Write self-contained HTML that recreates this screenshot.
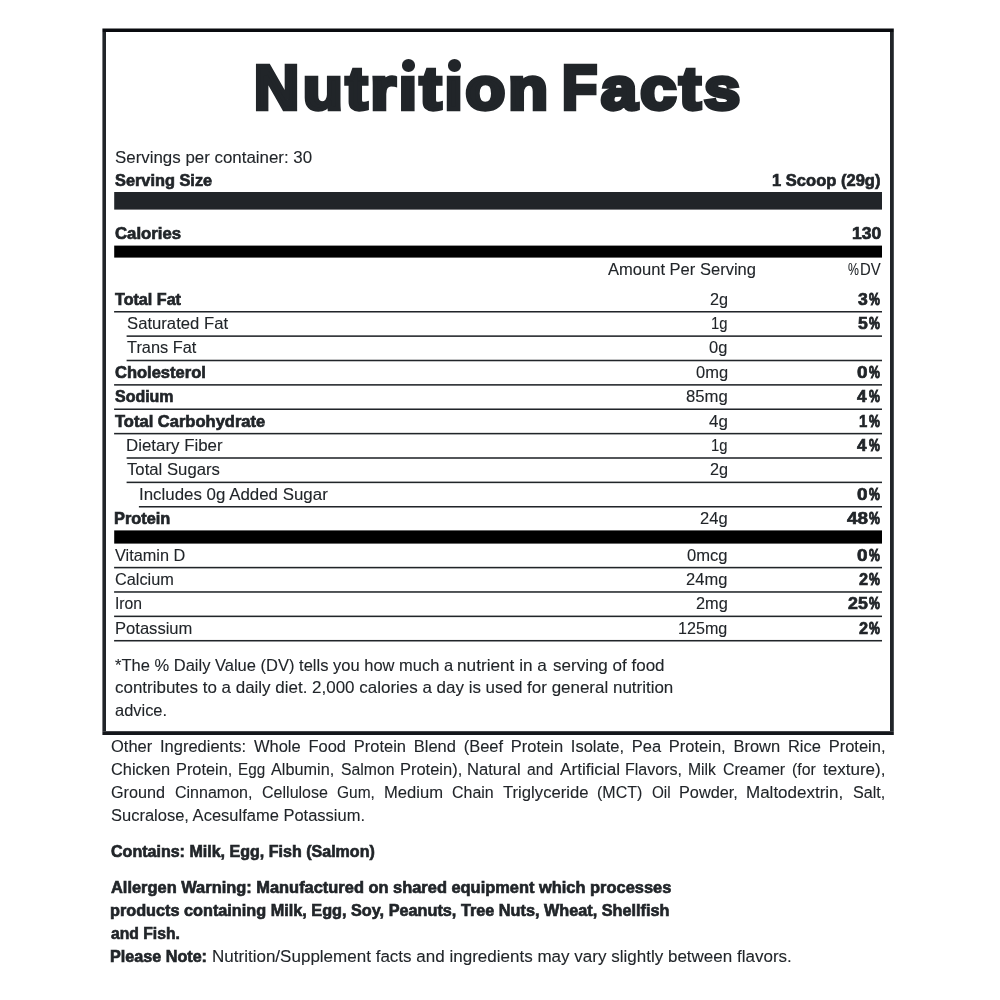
<!DOCTYPE html>
<html><head><meta charset="utf-8"><title>Nutrition Facts</title>
<style>
html,body{margin:0;padding:0;background:#fff;}
body{width:1000px;height:1000px;position:relative;overflow:hidden;font-family:"Liberation Sans",sans-serif;color:#212529;}
.t{position:absolute;white-space:nowrap;transform-origin:0 0;margin:0;padding:0;display:block}
.j{white-space:normal;text-align:justify;text-align-last:justify;-webkit-text-stroke:0.1px #212529}
.l{position:absolute;display:block}
.w{position:absolute;left:0;top:0;width:1000px;height:1000px;will-change:transform}
</style></head><body>
<div class="w">
<i class="l" style="left:114px;top:311px;width:1px;height:1px;background:rgba(33,37,41,0.900)"></i>
<i class="l" style="left:115px;top:311px;width:767px;height:1px;background:#212529"></i>
<i class="l" style="left:114px;top:312px;width:1px;height:1px;background:rgba(33,37,41,0.472)"></i>
<i class="l" style="left:115px;top:312px;width:767px;height:1px;background:rgba(33,37,41,0.525)"></i>
<i class="l" style="left:126px;top:335px;width:1px;height:1px;background:rgba(33,37,41,0.260)"></i>
<i class="l" style="left:127px;top:335px;width:755px;height:1px;background:rgba(33,37,41,0.650)"></i>
<i class="l" style="left:126px;top:336px;width:1px;height:1px;background:rgba(33,37,41,0.360)"></i>
<i class="l" style="left:127px;top:336px;width:755px;height:1px;background:rgba(33,37,41,0.900)"></i>
<i class="l" style="left:126px;top:359px;width:1px;height:1px;background:rgba(33,37,41,0.110)"></i>
<i class="l" style="left:127px;top:359px;width:755px;height:1px;background:rgba(33,37,41,0.275)"></i>
<i class="l" style="left:126px;top:360px;width:1px;height:1px;background:rgba(33,37,41,0.400)"></i>
<i class="l" style="left:127px;top:360px;width:755px;height:1px;background:#212529"></i>
<i class="l" style="left:126px;top:361px;width:1px;height:1px;background:rgba(33,37,41,0.110)"></i>
<i class="l" style="left:127px;top:361px;width:755px;height:1px;background:rgba(33,37,41,0.275)"></i>
<i class="l" style="left:114px;top:384px;width:1px;height:1px;background:rgba(33,37,41,0.810)"></i>
<i class="l" style="left:115px;top:384px;width:767px;height:1px;background:rgba(33,37,41,0.900)"></i>
<i class="l" style="left:114px;top:385px;width:1px;height:1px;background:rgba(33,37,41,0.585)"></i>
<i class="l" style="left:115px;top:385px;width:767px;height:1px;background:rgba(33,37,41,0.650)"></i>
<i class="l" style="left:114px;top:408px;width:1px;height:1px;background:rgba(33,37,41,0.472)"></i>
<i class="l" style="left:115px;top:408px;width:767px;height:1px;background:rgba(33,37,41,0.525)"></i>
<i class="l" style="left:114px;top:409px;width:1px;height:1px;background:rgba(33,37,41,0.900)"></i>
<i class="l" style="left:115px;top:409px;width:767px;height:1px;background:#212529"></i>
<i class="l" style="left:114px;top:432px;width:1px;height:1px;background:rgba(33,37,41,0.135)"></i>
<i class="l" style="left:115px;top:432px;width:767px;height:1px;background:rgba(33,37,41,0.150)"></i>
<i class="l" style="left:114px;top:433px;width:1px;height:1px;background:rgba(33,37,41,0.900)"></i>
<i class="l" style="left:115px;top:433px;width:767px;height:1px;background:#212529"></i>
<i class="l" style="left:114px;top:434px;width:1px;height:1px;background:rgba(33,37,41,0.360)"></i>
<i class="l" style="left:115px;top:434px;width:767px;height:1px;background:rgba(33,37,41,0.400)"></i>
<i class="l" style="left:126px;top:457px;width:1px;height:1px;background:rgba(33,37,41,0.310)"></i>
<i class="l" style="left:127px;top:457px;width:755px;height:1px;background:rgba(33,37,41,0.775)"></i>
<i class="l" style="left:126px;top:458px;width:1px;height:1px;background:rgba(33,37,41,0.310)"></i>
<i class="l" style="left:127px;top:458px;width:755px;height:1px;background:rgba(33,37,41,0.775)"></i>
<i class="l" style="left:126px;top:481px;width:1px;height:1px;background:rgba(33,37,41,0.160)"></i>
<i class="l" style="left:127px;top:481px;width:755px;height:1px;background:rgba(33,37,41,0.400)"></i>
<i class="l" style="left:126px;top:482px;width:1px;height:1px;background:rgba(33,37,41,0.400)"></i>
<i class="l" style="left:127px;top:482px;width:755px;height:1px;background:#212529"></i>
<i class="l" style="left:126px;top:483px;width:1px;height:1px;background:rgba(33,37,41,0.060)"></i>
<i class="l" style="left:127px;top:483px;width:755px;height:1px;background:rgba(33,37,41,0.150)"></i>
<i class="l" style="left:138px;top:506px;width:1px;height:1px;background:rgba(33,37,41,0.100)"></i>
<i class="l" style="left:139px;top:506px;width:743px;height:1px;background:#212529"></i>
<i class="l" style="left:138px;top:507px;width:1px;height:1px;background:rgba(33,37,41,0.052)"></i>
<i class="l" style="left:139px;top:507px;width:743px;height:1px;background:rgba(33,37,41,0.525)"></i>
<i class="l" style="left:114px;top:566px;width:1px;height:1px;background:rgba(33,37,41,0.157)"></i>
<i class="l" style="left:115px;top:566px;width:767px;height:1px;background:rgba(33,37,41,0.175)"></i>
<i class="l" style="left:114px;top:567px;width:1px;height:1px;background:rgba(33,37,41,0.900)"></i>
<i class="l" style="left:115px;top:567px;width:767px;height:1px;background:#212529"></i>
<i class="l" style="left:114px;top:568px;width:1px;height:1px;background:rgba(33,37,41,0.338)"></i>
<i class="l" style="left:115px;top:568px;width:767px;height:1px;background:rgba(33,37,41,0.375)"></i>
<i class="l" style="left:114px;top:591px;width:1px;height:1px;background:rgba(33,37,41,0.720)"></i>
<i class="l" style="left:115px;top:591px;width:767px;height:1px;background:rgba(33,37,41,0.800)"></i>
<i class="l" style="left:114px;top:592px;width:1px;height:1px;background:rgba(33,37,41,0.675)"></i>
<i class="l" style="left:115px;top:592px;width:767px;height:1px;background:rgba(33,37,41,0.750)"></i>
<i class="l" style="left:114px;top:615px;width:1px;height:1px;background:rgba(33,37,41,0.382)"></i>
<i class="l" style="left:115px;top:615px;width:767px;height:1px;background:rgba(33,37,41,0.425)"></i>
<i class="l" style="left:114px;top:616px;width:1px;height:1px;background:rgba(33,37,41,0.900)"></i>
<i class="l" style="left:115px;top:616px;width:767px;height:1px;background:#212529"></i>
<i class="l" style="left:114px;top:617px;width:1px;height:1px;background:rgba(33,37,41,0.113)"></i>
<i class="l" style="left:115px;top:617px;width:767px;height:1px;background:rgba(33,37,41,0.125)"></i>
<i class="l" style="left:114px;top:639px;width:1px;height:1px;background:rgba(33,37,41,0.045)"></i>
<i class="l" style="left:115px;top:639px;width:767px;height:1px;background:rgba(33,37,41,0.050)"></i>
<i class="l" style="left:114px;top:640px;width:1px;height:1px;background:rgba(33,37,41,0.900)"></i>
<i class="l" style="left:115px;top:640px;width:767px;height:1px;background:#212529"></i>
<i class="l" style="left:114px;top:641px;width:1px;height:1px;background:rgba(33,37,41,0.450)"></i>
<i class="l" style="left:115px;top:641px;width:767px;height:1px;background:rgba(33,37,41,0.500)"></i>
<i class="l" style="left:114px;top:192px;width:1px;height:17px;background:rgba(33,37,41,0.800)"></i>
<i class="l" style="left:115px;top:192px;width:767px;height:17px;background:#212529"></i>
<i class="l" style="left:114px;top:209px;width:1px;height:1px;background:rgba(33,37,41,0.480)"></i>
<i class="l" style="left:115px;top:209px;width:767px;height:1px;background:rgba(33,37,41,0.600)"></i>
<i class="l" style="left:114px;top:245px;width:1px;height:1px;background:rgba(0,0,0,0.320)"></i>
<i class="l" style="left:115px;top:245px;width:767px;height:1px;background:rgba(0,0,0,0.400)"></i>
<i class="l" style="left:114px;top:246px;width:1px;height:11px;background:rgba(0,0,0,0.800)"></i>
<i class="l" style="left:115px;top:246px;width:767px;height:11px;background:#000"></i>
<i class="l" style="left:114px;top:257px;width:1px;height:1px;background:rgba(0,0,0,0.480)"></i>
<i class="l" style="left:115px;top:257px;width:767px;height:1px;background:rgba(0,0,0,0.600)"></i>
<i class="l" style="left:114px;top:530px;width:1px;height:1px;background:rgba(0,0,0,0.480)"></i>
<i class="l" style="left:115px;top:530px;width:767px;height:1px;background:rgba(0,0,0,0.600)"></i>
<i class="l" style="left:114px;top:531px;width:1px;height:12px;background:rgba(0,0,0,0.800)"></i>
<i class="l" style="left:115px;top:531px;width:767px;height:12px;background:#000"></i>
<i class="l" style="left:114px;top:543px;width:1px;height:1px;background:rgba(0,0,0,0.480)"></i>
<i class="l" style="left:115px;top:543px;width:767px;height:1px;background:rgba(0,0,0,0.600)"></i>
<i class="l" style="left:401.6px;top:59.3px;width:13.2px;height:12.4px;border-radius:50%;background:#212529"></i>
<i class="l" style="left:447.7px;top:59.3px;width:13.2px;height:12.4px;border-radius:50%;background:#212529"></i>
<i class="l" style="left:102px;top:28px;width:1px;height:1px;background:rgba(9,11,15,0.300)"></i>
<i class="l" style="left:103px;top:28px;width:790px;height:1px;background:rgba(9,11,15,0.500)"></i>
<i class="l" style="left:893px;top:28px;width:1px;height:1px;background:rgba(9,11,15,0.400)"></i>
<i class="l" style="left:102px;top:29px;width:1px;height:3px;background:rgba(9,11,15,0.600)"></i>
<i class="l" style="left:103px;top:29px;width:790px;height:3px;background:#090b0f"></i>
<i class="l" style="left:893px;top:29px;width:1px;height:3px;background:rgba(9,11,15,0.800)"></i>
<i class="l" style="left:102px;top:731px;width:1px;height:1px;background:rgba(20,23,27,0.480)"></i>
<i class="l" style="left:103px;top:731px;width:790px;height:1px;background:rgba(20,23,27,0.800)"></i>
<i class="l" style="left:893px;top:731px;width:1px;height:1px;background:rgba(20,23,27,0.640)"></i>
<i class="l" style="left:102px;top:732px;width:1px;height:3px;background:rgba(20,23,27,0.600)"></i>
<i class="l" style="left:103px;top:732px;width:790px;height:3px;background:#14171b"></i>
<i class="l" style="left:893px;top:732px;width:1px;height:3px;background:rgba(20,23,27,0.800)"></i>
<i class="l" style="left:102px;top:32px;width:1px;height:699px;background:rgba(33,37,41,0.600)"></i>
<i class="l" style="left:103px;top:32px;width:3px;height:699px;background:#212529"></i>
<i class="l" style="left:102px;top:731px;width:1px;height:1px;background:rgba(33,37,41,0.120)"></i>
<i class="l" style="left:103px;top:731px;width:3px;height:1px;background:rgba(33,37,41,0.200)"></i>
<i class="l" style="left:890px;top:32px;width:3px;height:699px;background:#212529"></i>
<i class="l" style="left:893px;top:32px;width:1px;height:699px;background:rgba(33,37,41,0.800)"></i>
<i class="l" style="left:890px;top:731px;width:3px;height:1px;background:rgba(33,37,41,0.200)"></i>
<i class="l" style="left:893px;top:731px;width:1px;height:1px;background:rgba(33,37,41,0.160)"></i>
<span class="t" style="left:254.37px;top:52px;font-size:63.10px;line-height:70px;transform:scaleX(0.9906);font-weight:bold;-webkit-text-stroke:4.5px #212529;">N</span>
<span class="t" style="left:302.73px;top:55px;font-size:63.10px;line-height:70px;transform:translate(0px,0.11px) scale(1.0300,0.945);letter-spacing:2.931px;font-weight:bold;-webkit-text-stroke:4.5px #212529;">utrıtıon</span>
<span class="t" style="left:562.15px;top:52px;font-size:63.10px;line-height:70px;transform:scaleX(0.9133);font-weight:bold;-webkit-text-stroke:4.5px #212529;">F</span>
<span class="t" style="left:601.29px;top:55px;font-size:63.10px;line-height:70px;transform:translate(0px,0.11px) scale(1.0300,0.945);letter-spacing:2.906px;font-weight:bold;-webkit-text-stroke:4.5px #212529;">acts</span>
<span class="t" style="left:115.05px;top:148px;font-size:16.50px;line-height:18px;transform:scaleX(1.0232);-webkit-text-stroke:0.1px #212529;">Servings per container: 30</span>
<span class="t" style="left:115.32px;top:171px;font-size:16.50px;line-height:18px;transform:scaleX(0.9899);font-weight:bold;-webkit-text-stroke:0.65px #212529;">Serving Size</span>
<span class="t" style="left:772.32px;top:171px;font-size:16.50px;line-height:18px;transform:scaleX(1.0024);font-weight:bold;-webkit-text-stroke:0.65px #212529;">1 Scoop (29g)</span>
<span class="t" style="left:115.33px;top:224px;font-size:16.50px;line-height:18px;transform:scaleX(1.0154);font-weight:bold;-webkit-text-stroke:0.65px #212529;">Calories</span>
<span class="t" style="left:851.69px;top:224px;font-size:16.50px;line-height:18px;transform:scaleX(1.0591);font-weight:bold;-webkit-text-stroke:0.65px #212529;">130</span>
<span class="t" style="left:607.55px;top:260px;font-size:16.50px;line-height:18px;transform:scaleX(1.0022);-webkit-text-stroke:0.1px #212529;">Amount Per Serving</span>
<span class="t" style="left:848.04px;top:259px;font-size:14.35px;line-height:16px;transform:translate(0px,0.65px) scale(0.8550,1.15);-webkit-text-stroke:0.1px #212529;">%</span>
<span class="t" style="left:860.39px;top:260px;font-size:16.50px;line-height:18px;transform:scaleX(0.9016);-webkit-text-stroke:0.1px #212529;">DV</span>
<span class="t" style="left:115.32px;top:290px;font-size:16.50px;line-height:18px;transform:scaleX(0.9770);font-weight:bold;-webkit-text-stroke:0.65px #212529;">Total Fat</span>
<span class="t" style="left:709.55px;top:290px;font-size:16.50px;line-height:18px;transform:scaleX(0.9849);-webkit-text-stroke:0.1px #212529;">2g</span>
<span class="t" style="left:857.85px;top:290px;font-size:16.50px;line-height:18px;transform:scaleX(1.0674);font-weight:bold;-webkit-text-stroke:0.65px #212529;">3</span>
<span class="t" style="left:869.28px;top:289px;font-size:14.35px;line-height:16px;transform:translate(0px,0.80px) scale(0.8489,1.15);font-weight:bold;-webkit-text-stroke:0.9px #212529;">%</span>
<span class="t" style="left:127.05px;top:314px;font-size:16.50px;line-height:18px;transform:scaleX(1.0110);-webkit-text-stroke:0.1px #212529;">Saturated Fat</span>
<span class="t" style="left:711.15px;top:314px;font-size:16.50px;line-height:18px;transform:scaleX(0.8972);-webkit-text-stroke:0.1px #212529;">1g</span>
<span class="t" style="left:857.85px;top:314px;font-size:16.50px;line-height:18px;transform:scaleX(1.0674);font-weight:bold;-webkit-text-stroke:0.65px #212529;">5</span>
<span class="t" style="left:869.28px;top:314px;font-size:14.35px;line-height:16px;transform:translate(0px,0.17px) scale(0.8489,1.15);font-weight:bold;-webkit-text-stroke:0.9px #212529;">%</span>
<span class="t" style="left:127.05px;top:338px;font-size:16.50px;line-height:18px;transform:scaleX(0.9914);-webkit-text-stroke:0.1px #212529;">Trans Fat</span>
<span class="t" style="left:709.30px;top:338px;font-size:16.50px;line-height:18px;transform:scaleX(0.9985);-webkit-text-stroke:0.1px #212529;">0g</span>
<span class="t" style="left:115.33px;top:363px;font-size:16.50px;line-height:18px;transform:scaleX(1.0007);font-weight:bold;-webkit-text-stroke:0.65px #212529;">Cholesterol</span>
<span class="t" style="left:695.55px;top:363px;font-size:16.50px;line-height:18px;transform:scaleX(0.9993);-webkit-text-stroke:0.1px #212529;">0mg</span>
<span class="t" style="left:857.12px;top:363px;font-size:16.50px;line-height:18px;transform:scaleX(1.1451);font-weight:bold;-webkit-text-stroke:0.65px #212529;">0</span>
<span class="t" style="left:869.28px;top:362px;font-size:14.35px;line-height:16px;transform:translate(0px,0.93px) scale(0.8489,1.15);font-weight:bold;-webkit-text-stroke:0.9px #212529;">%</span>
<span class="t" style="left:115.31px;top:387px;font-size:16.50px;line-height:18px;transform:scaleX(0.9673);font-weight:bold;-webkit-text-stroke:0.65px #212529;">Sodium</span>
<span class="t" style="left:685.80px;top:387px;font-size:16.50px;line-height:18px;transform:scaleX(1.0134);-webkit-text-stroke:0.1px #212529;">85mg</span>
<span class="t" style="left:857.09px;top:387px;font-size:16.50px;line-height:18px;transform:scaleX(1.0376);font-weight:bold;-webkit-text-stroke:0.65px #212529;">4</span>
<span class="t" style="left:869.28px;top:387px;font-size:14.35px;line-height:16px;transform:translate(0px,0.30px) scale(0.8489,1.15);font-weight:bold;-webkit-text-stroke:0.9px #212529;">%</span>
<span class="t" style="left:115.33px;top:412px;font-size:16.50px;line-height:18px;transform:scaleX(1.0012);font-weight:bold;-webkit-text-stroke:0.65px #212529;">Total Carbohydrate</span>
<span class="t" style="left:708.80px;top:412px;font-size:16.50px;line-height:18px;transform:scaleX(1.0259);-webkit-text-stroke:0.1px #212529;">4g</span>
<span class="t" style="left:859.39px;top:412px;font-size:16.50px;line-height:18px;transform:scaleX(0.9017);font-weight:bold;-webkit-text-stroke:0.65px #212529;">1</span>
<span class="t" style="left:869.28px;top:411px;font-size:14.35px;line-height:16px;transform:translate(0px,0.67px) scale(0.8489,1.15);font-weight:bold;-webkit-text-stroke:0.9px #212529;">%</span>
<span class="t" style="left:126.33px;top:436px;font-size:16.50px;line-height:18px;transform:scaleX(1.0229);-webkit-text-stroke:0.1px #212529;">Dietary Fiber</span>
<span class="t" style="left:711.15px;top:436px;font-size:16.50px;line-height:18px;transform:scaleX(0.8972);-webkit-text-stroke:0.1px #212529;">1g</span>
<span class="t" style="left:857.09px;top:436px;font-size:16.50px;line-height:18px;transform:scaleX(1.0376);font-weight:bold;-webkit-text-stroke:0.65px #212529;">4</span>
<span class="t" style="left:869.28px;top:436px;font-size:14.35px;line-height:16px;transform:translate(0px,0.05px) scale(0.8489,1.15);font-weight:bold;-webkit-text-stroke:0.9px #212529;">%</span>
<span class="t" style="left:127.05px;top:460px;font-size:16.50px;line-height:18px;transform:scaleX(1.0129);-webkit-text-stroke:0.1px #212529;">Total Sugars</span>
<span class="t" style="left:709.55px;top:460px;font-size:16.50px;line-height:18px;transform:scaleX(0.9849);-webkit-text-stroke:0.1px #212529;">2g</span>
<span class="t" style="left:138.53px;top:485px;font-size:16.50px;line-height:18px;transform:scaleX(1.0238);-webkit-text-stroke:0.1px #212529;">Includes 0g Added Sugar</span>
<span class="t" style="left:857.12px;top:485px;font-size:16.50px;line-height:18px;transform:scaleX(1.1451);font-weight:bold;-webkit-text-stroke:0.65px #212529;">0</span>
<span class="t" style="left:869.28px;top:484px;font-size:14.35px;line-height:16px;transform:translate(0px,0.80px) scale(0.8489,1.15);font-weight:bold;-webkit-text-stroke:0.9px #212529;">%</span>
<span class="t" style="left:114.33px;top:509px;font-size:16.50px;line-height:18px;transform:scaleX(0.9909);font-weight:bold;-webkit-text-stroke:0.65px #212529;">Protein</span>
<span class="t" style="left:700.05px;top:509px;font-size:16.50px;line-height:18px;transform:scaleX(1.0017);-webkit-text-stroke:0.1px #212529;">24g</span>
<span class="t" style="left:846.62px;top:509px;font-size:16.50px;line-height:18px;transform:scaleX(1.1447);font-weight:bold;-webkit-text-stroke:0.65px #212529;">48</span>
<span class="t" style="left:869.28px;top:509px;font-size:14.35px;line-height:16px;transform:translate(0px,0.17px) scale(0.8489,1.15);font-weight:bold;-webkit-text-stroke:0.9px #212529;">%</span>
<span class="t" style="left:115.05px;top:546px;font-size:16.50px;line-height:18px;transform:scaleX(0.9873);-webkit-text-stroke:0.1px #212529;">Vitamin D</span>
<span class="t" style="left:687.05px;top:546px;font-size:16.50px;line-height:18px;transform:scaleX(1.0057);-webkit-text-stroke:0.1px #212529;">0mcg</span>
<span class="t" style="left:857.12px;top:546px;font-size:16.50px;line-height:18px;transform:scaleX(1.1451);font-weight:bold;-webkit-text-stroke:0.65px #212529;">0</span>
<span class="t" style="left:869.28px;top:545px;font-size:14.35px;line-height:16px;transform:translate(0px,0.65px) scale(0.8489,1.15);font-weight:bold;-webkit-text-stroke:0.9px #212529;">%</span>
<span class="t" style="left:115.05px;top:570px;font-size:16.50px;line-height:18px;transform:scaleX(0.9881);-webkit-text-stroke:0.1px #212529;">Calcium</span>
<span class="t" style="left:686.30px;top:570px;font-size:16.50px;line-height:18px;transform:scaleX(1.0013);-webkit-text-stroke:0.1px #212529;">24mg</span>
<span class="t" style="left:858.57px;top:570px;font-size:16.50px;line-height:18px;transform:scaleX(0.9896);font-weight:bold;-webkit-text-stroke:0.65px #212529;">2</span>
<span class="t" style="left:869.28px;top:570px;font-size:14.35px;line-height:16px;transform:translate(0px,0.03px) scale(0.8489,1.15);font-weight:bold;-webkit-text-stroke:0.9px #212529;">%</span>
<span class="t" style="left:115.35px;top:594px;font-size:16.50px;line-height:18px;transform:scaleX(0.9523);-webkit-text-stroke:0.1px #212529;">Iron</span>
<span class="t" style="left:695.80px;top:594px;font-size:16.50px;line-height:18px;transform:scaleX(0.9915);-webkit-text-stroke:0.1px #212529;">2mg</span>
<span class="t" style="left:847.85px;top:594px;font-size:16.50px;line-height:18px;transform:scaleX(1.0783);font-weight:bold;-webkit-text-stroke:0.65px #212529;">25</span>
<span class="t" style="left:869.28px;top:594px;font-size:14.35px;line-height:16px;transform:translate(0px,0.40px) scale(0.8489,1.15);font-weight:bold;-webkit-text-stroke:0.9px #212529;">%</span>
<span class="t" style="left:114.55px;top:619px;font-size:16.50px;line-height:18px;transform:scaleX(1.0048);-webkit-text-stroke:0.1px #212529;">Potassium</span>
<span class="t" style="left:678.32px;top:619px;font-size:16.50px;line-height:18px;transform:scaleX(0.9772);-webkit-text-stroke:0.1px #212529;">125mg</span>
<span class="t" style="left:858.57px;top:619px;font-size:16.50px;line-height:18px;transform:scaleX(0.9896);font-weight:bold;-webkit-text-stroke:0.65px #212529;">2</span>
<span class="t" style="left:869.28px;top:618px;font-size:14.35px;line-height:16px;transform:translate(0px,0.78px) scale(0.8489,1.15);font-weight:bold;-webkit-text-stroke:0.9px #212529;">%</span>
<span class="t" style="left:115.05px;top:678px;font-size:16.50px;line-height:18px;transform:scaleX(1.0282);-webkit-text-stroke:0.1px #212529;">contributes to a daily diet. 2,000 calories a day is used for general nutrition</span>
<span class="t" style="left:115.05px;top:701px;font-size:16.50px;line-height:18px;transform:scaleX(0.9962);-webkit-text-stroke:0.1px #212529;">advice.</span>
<span class="t" style="left:111.15px;top:806px;font-size:16.70px;line-height:19px;transform:scaleX(0.9887);-webkit-text-stroke:0.1px #212529;">Sucralose, Acesulfame Potassium.</span>
<span class="t" style="left:111.41px;top:842px;font-size:16.70px;line-height:19px;transform:scaleX(0.9613);font-weight:bold;-webkit-text-stroke:0.65px #212529;">Contains: Milk, Egg, Fish (Salmon)</span>
<span class="t" style="left:111.42px;top:878px;font-size:16.70px;line-height:19px;transform:scaleX(0.9836);font-weight:bold;-webkit-text-stroke:0.65px #212529;">Allergen Warning: Manufactured on shared equipment which processes</span>
<span class="t" style="left:110.44px;top:901px;font-size:16.70px;line-height:19px;transform:scaleX(0.9737);font-weight:bold;-webkit-text-stroke:0.65px #212529;">products containing Milk, Egg, Soy, Peanuts, Tree Nuts, Wheat, Shellfish</span>
<span class="t" style="left:111.41px;top:924px;font-size:16.70px;line-height:19px;transform:scaleX(0.9405);font-weight:bold;-webkit-text-stroke:0.65px #212529;">and Fish.</span>
<span class="t" style="left:110.45px;top:947px;font-size:16.70px;line-height:19px;transform:scaleX(0.9684);font-weight:bold;-webkit-text-stroke:0.65px #212529;">Please Note:</span>
<span class="t" style="left:212.03px;top:947px;font-size:16.70px;line-height:19px;transform:scaleX(1.0198);-webkit-text-stroke:0.1px #212529;">Nutrition/Supplement facts and ingredients may vary slightly between flavors.</span>
<span class="t" style="left:115.05px;top:656px;font-size:16.5px;line-height:18px;transform:scaleX(1.0004);-webkit-text-stroke:0.1px #212529;">*The % Daily Value (DV) tells you how much a</span>
<span class="t" style="left:456.81px;top:656px;font-size:16.5px;line-height:18px;transform:scaleX(1.0429);-webkit-text-stroke:0.1px #212529;">nutrient in a</span>
<span class="t" style="left:552.55px;top:656px;font-size:16.5px;line-height:18px;transform:scaleX(1.0309);-webkit-text-stroke:0.1px #212529;">serving of food</span>
<span class="t" style="left:111.05px;top:760px;font-size:16.7px;line-height:19px;transform:scaleX(0.9816);-webkit-text-stroke:0.1px #212529;">Chicken</span>
<span class="t" style="left:175.87px;top:760px;font-size:16.7px;line-height:19px;transform:scaleX(0.9790);-webkit-text-stroke:0.1px #212529;">Protein,</span>
<span class="t" style="left:237.53px;top:760px;font-size:16.7px;line-height:19px;transform:scaleX(0.9154);-webkit-text-stroke:0.1px #212529;">Egg</span>
<span class="t" style="left:271.35px;top:760px;font-size:16.7px;line-height:19px;transform:scaleX(0.9738);-webkit-text-stroke:0.1px #212529;">Albumin,</span>
<span class="t" style="left:340.85px;top:760px;font-size:16.7px;line-height:19px;transform:scaleX(0.9450);-webkit-text-stroke:0.1px #212529;">Salmon</span>
<span class="t" style="left:399.96px;top:760px;font-size:16.7px;line-height:19px;transform:scaleX(0.9865);-webkit-text-stroke:0.1px #212529;">Protein),</span>
<span class="t" style="left:467.45px;top:760px;font-size:16.7px;line-height:19px;transform:scaleX(0.9964);-webkit-text-stroke:0.1px #212529;">Natural</span>
<span class="t" style="left:527.25px;top:760px;font-size:16.7px;line-height:19px;transform:scaleX(0.9399);-webkit-text-stroke:0.1px #212529;">and</span>
<span class="t" style="left:560.05px;top:760px;font-size:16.7px;line-height:19px;transform:scaleX(1.0293);-webkit-text-stroke:0.1px #212529;">Artificial</span>
<span class="t" style="left:625.39px;top:760px;font-size:16.7px;line-height:19px;transform:scaleX(0.9618);-webkit-text-stroke:0.1px #212529;">Flavors,</span>
<span class="t" style="left:687.81px;top:760px;font-size:16.7px;line-height:19px;transform:scaleX(0.9417);-webkit-text-stroke:0.1px #212529;">Milk</span>
<span class="t" style="left:723.25px;top:760px;font-size:16.7px;line-height:19px;transform:scaleX(0.9580);-webkit-text-stroke:0.1px #212529;">Creamer</span>
<span class="t" style="left:791.80px;top:760px;font-size:16.7px;line-height:19px;transform:scaleX(0.9481);-webkit-text-stroke:0.1px #212529;">(for</span>
<span class="t" style="left:822.85px;top:760px;font-size:16.7px;line-height:19px;transform:scaleX(1.0202);-webkit-text-stroke:0.1px #212529;">texture),</span>
<span class="t" style="left:111.05px;top:783px;font-size:16.7px;line-height:19px;transform:scaleX(0.9697);-webkit-text-stroke:0.1px #212529;">Ground</span>
<span class="t" style="left:174.75px;top:783px;font-size:16.7px;line-height:19px;transform:scaleX(0.9593);-webkit-text-stroke:0.1px #212529;">Cinnamon,</span>
<span class="t" style="left:261.55px;top:783px;font-size:16.7px;line-height:19px;transform:scaleX(0.9612);-webkit-text-stroke:0.1px #212529;">Cellulose</span>
<span class="t" style="left:337.25px;top:783px;font-size:16.7px;line-height:19px;transform:scaleX(0.9289);-webkit-text-stroke:0.1px #212529;">Gum,</span>
<span class="t" style="left:383.56px;top:783px;font-size:16.7px;line-height:19px;transform:scaleX(0.9939);-webkit-text-stroke:0.1px #212529;">Medium</span>
<span class="t" style="left:451.65px;top:783px;font-size:16.7px;line-height:19px;transform:scaleX(0.9558);-webkit-text-stroke:0.1px #212529;">Chain</span>
<span class="t" style="left:503.05px;top:783px;font-size:16.7px;line-height:19px;transform:scaleX(0.9995);-webkit-text-stroke:0.1px #212529;">Triglyceride</span>
<span class="t" style="left:597.39px;top:783px;font-size:16.7px;line-height:19px;transform:scaleX(0.9585);-webkit-text-stroke:0.1px #212529;">(MCT)</span>
<span class="t" style="left:652.15px;top:783px;font-size:16.7px;line-height:19px;transform:scaleX(0.9147);-webkit-text-stroke:0.1px #212529;">Oil</span>
<span class="t" style="left:679.17px;top:783px;font-size:16.7px;line-height:19px;transform:scaleX(0.9752);-webkit-text-stroke:0.1px #212529;">Powder,</span>
<span class="t" style="left:746.33px;top:783px;font-size:16.7px;line-height:19px;transform:scaleX(1.0182);-webkit-text-stroke:0.1px #212529;">Maltodextrin,</span>
<span class="t" style="left:852.95px;top:783px;font-size:16.7px;line-height:19px;transform:scaleX(0.9679);-webkit-text-stroke:0.1px #212529;">Salt,</span>
<div class="t j" style="left:111.10px;top:737px;width:783.37px;font-size:16.7px;line-height:19px;transform:scaleX(0.9887);">Other Ingredients: Whole Food Protein Blend (Beef Protein Isolate, Pea Protein, Brown Rice Protein,</div>
</div>
</body></html>
